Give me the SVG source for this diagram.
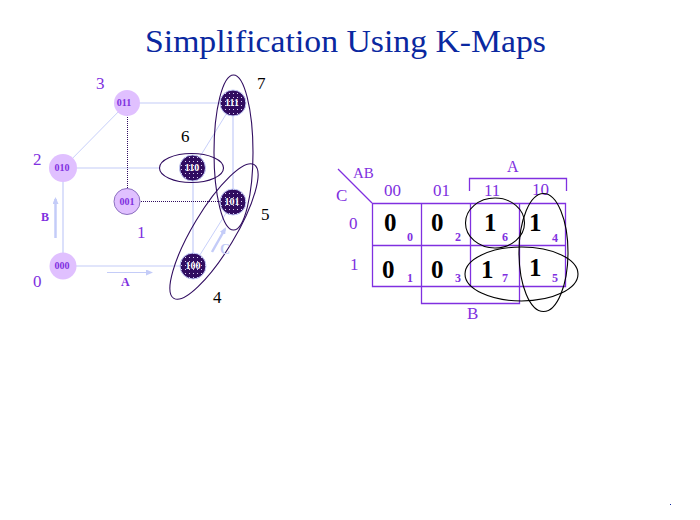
<svg xmlns="http://www.w3.org/2000/svg" width="700" height="520" viewBox="0 0 700 520">
<style>
text{font-family:"Liberation Serif","Times New Roman",serif}
.edge{stroke:#c4ccf8;stroke-width:1.2;fill:none}
.thin{stroke:#c8d0fa;stroke-width:1;fill:none}
.dot{stroke:#300c60;stroke-width:1;stroke-dasharray:1 1;fill:none}
.arrow{stroke:#c4ccf8;stroke-width:2.500;fill:none}
.light circle{fill:#e0c0ff}
.dark circle{fill:url(#sp);stroke:#c4ccf8;stroke-width:1}
.light text{fill:#8030e0;font-size:10px;font-weight:bold;text-anchor:middle}
.dark text{fill:#fff;font-size:10px;font-weight:bold;text-anchor:middle}
.num{fill:#8030e0;font-size:17px}
.blk{fill:#000;font-size:17px}
.big{fill:#000;font-size:25px;font-weight:bold}
.sm{fill:#8030e0;font-size:12px;font-weight:bold}
.hd{fill:#8030e0;font-size:17px}
.grid{stroke:#8030e0;stroke-width:1.300;fill:none}
.loop{stroke:#300c60;stroke-width:1.100;fill:none}
.loopk{stroke:#000;stroke-width:1.100;fill:none}
</style>
<defs>
<marker id="ah" markerWidth="7" markerHeight="6" refX="5" refY="3" orient="auto" markerUnits="userSpaceOnUse"><path d="M0 0L7 3L0 6Z" fill="#c4ccf8"/></marker>
<pattern id="sp" width="4" height="4" patternUnits="userSpaceOnUse"><rect width="4" height="4" fill="#300c60"/><rect x="1" y="1" width="1" height="1" fill="#d8d0f0"/></pattern>
</defs>
<text x="145" y="52" font-size="31" fill="#0a28a0" textLength="401" lengthAdjust="spacingAndGlyphs">Simplification Using K-Maps</text>
<g id="connectors">
<path class="edge" d="M127 103H233M63 168H160M63 266H193M63 168V266M193 181V266M233 103V202"/>
<path class="thin" d="M63 168L127 103M193 168L233 103M193 266L233 202"/>
<path class="dot" d="M127.500 103V202M127 201.500H233"/>
<path class="arrow" d="M55.500 238V199" marker-end="url(#ah)"/>
<path class="edge" d="M107 272.500H151" marker-end="url(#ah)"/>
<path class="arrow" d="M212 252L225 229" marker-end="url(#ah)"/>
</g>
<g id="n011" class="light"><circle cx="127" cy="103" r="13"/><text x="124" y="106">011</text></g>
<g id="n010" class="light"><circle cx="63" cy="168" r="14"/><text x="62" y="171">010</text></g>
<g id="n001" class="light"><circle cx="127" cy="201.500" r="13" stroke="#8c70c0"/><text x="127" y="205">001</text></g>
<g id="n000" class="light"><circle cx="63" cy="266" r="13.500"/><text x="62" y="269">000</text></g>
<g id="n111" class="dark"><circle cx="233" cy="103" r="13"/><text x="232" y="106">111</text></g>
<g id="n110" class="dark"><circle cx="192.500" cy="168" r="13"/><text x="192" y="171">110</text></g>
<g id="n101" class="dark"><circle cx="233" cy="202" r="13"/><text x="232" y="205">101</text></g>
<g id="n100" class="dark"><circle cx="193" cy="266" r="13"/><text x="193" y="269">100</text></g>
<g id="cube-loops">
<ellipse class="loop" cx="233.500" cy="152.500" rx="19.500" ry="77.500"/>
<ellipse class="loop" cx="191.500" cy="168" rx="32" ry="14.500"/>
<ellipse class="loop" cx="214" cy="231.500" rx="21" ry="78" transform="rotate(31 214 231.500)"/>
</g>
<g id="cube-labels">
<text class="num" x="96" y="89">3</text>
<text class="num" x="33" y="165">2</text>
<text class="num" x="137" y="238">1</text>
<text class="num" x="33" y="287">0</text>
<text class="blk" x="257" y="89">7</text>
<text class="blk" x="181" y="142">6</text>
<text class="blk" x="261" y="220">5</text>
<text class="blk" x="213" y="303">4</text>
<text class="sm" x="41" y="221">B</text>
<text class="sm" x="121" y="286">A</text>
<text x="220" y="254" font-size="14" font-weight="bold" fill="#c4ccf8">C</text>
</g>
<g id="kmap">
<path class="grid" d="M372.500 203.500H565.500V286.500H372.500ZM372.500 245.500H565.500M421.500 203.500V286.500M470.500 203.500V286.500M519.500 203.500V286.500"/>
<path class="grid" d="M338 169L372 203"/>
<path class="grid" d="M469.500 191V178.500H566.500V191"/>
<path class="grid" d="M421.500 287V303.500H519.500V287"/>
<text class="hd" x="353" y="178" font-size="15" style="font-size:15px">AB</text>
<text class="hd" x="336" y="201">C</text>
<text class="hd" x="507" y="172" style="font-size:16px">A</text>
<text class="hd" x="467" y="319">B</text>
<text class="hd" x="384" y="196">00</text>
<text class="hd" x="433" y="196">01</text>
<text class="hd" x="484" y="196">11</text>
<text class="hd" x="532" y="195">10</text>
<text class="hd" x="349" y="229">0</text>
<text class="hd" x="350" y="270">1</text>
<text class="big" x="384" y="231">0</text>
<text class="big" x="431" y="231">0</text>
<text class="big" x="484" y="231">1</text>
<text class="big" x="529" y="231">1</text>
<text class="big" x="382" y="278">0</text>
<text class="big" x="431" y="278">0</text>
<text class="big" x="481" y="278">1</text>
<text class="big" x="529" y="276">1</text>
<text class="sm" x="407" y="241">0</text>
<text class="sm" x="455" y="241">2</text>
<text class="sm" x="502" y="241">6</text>
<text class="sm" x="552" y="242">4</text>
<text class="sm" x="407" y="282">1</text>
<text class="sm" x="455" y="282">3</text>
<text class="sm" x="502" y="282">7</text>
<text class="sm" x="552" y="282">5</text>
<ellipse class="loopk" cx="495" cy="223" rx="29.500" ry="25"/>
<ellipse class="loopk" cx="543.500" cy="252.500" rx="24.500" ry="59"/>
<ellipse class="loopk" cx="521.500" cy="274" rx="56.500" ry="27"/>
</g>
<rect x="670" y="504" width="1" height="1" fill="#0a28a0"/>
</svg>
